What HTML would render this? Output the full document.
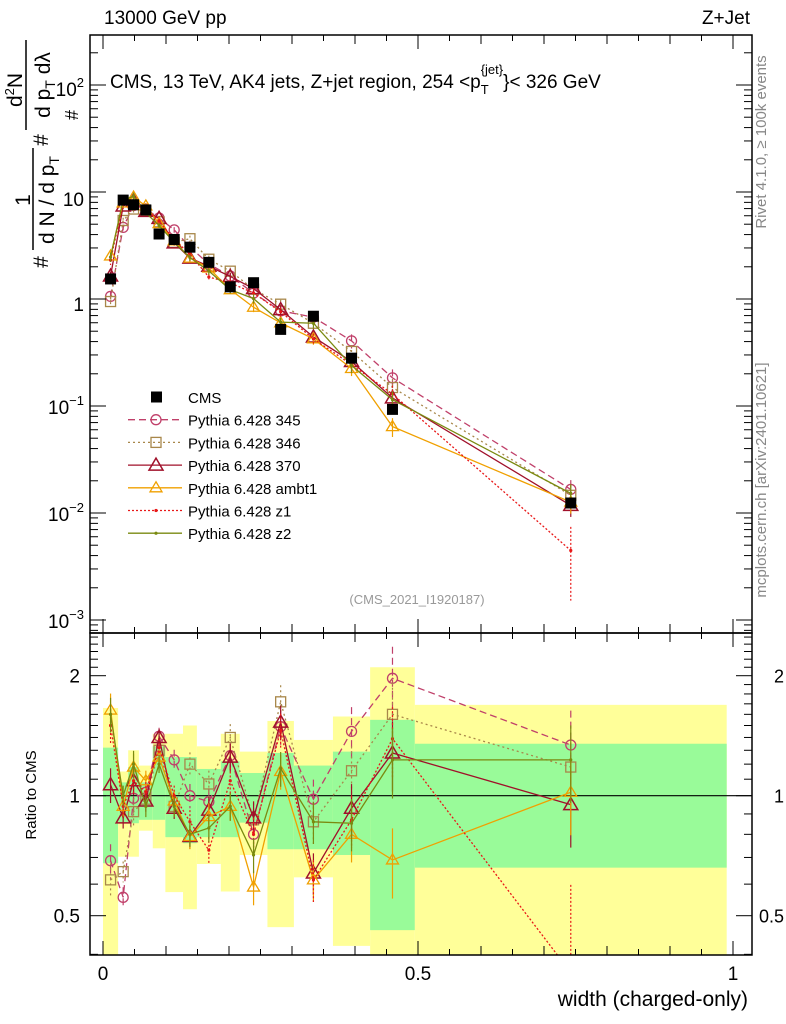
<!DOCTYPE html>
<html><head><meta charset="utf-8"><style>
html,body{margin:0;background:#fff;overflow:hidden;width:786px;height:1024px;}
svg{display:block;font-family:"Liberation Sans",sans-serif;}
</style></head><body>
<svg id="chart" width="786" height="1024" viewBox="0 0 786 1024" xmlns="http://www.w3.org/2000/svg">
<defs>
<clipPath id="cm"><rect x="90" y="35" width="662" height="598"/></clipPath>
<clipPath id="cr"><rect x="90" y="633" width="662" height="322"/></clipPath>
</defs>
<g id="bands" clip-path="url(#cr)"></g>
<line x1="90" y1="795.7" x2="752" y2="795.7" stroke="#000" stroke-width="1.2"/>
<g id="ratio" clip-path="url(#cr)"></g>
<g id="main" clip-path="url(#cm)"></g>
<rect x="90" y="35" width="662" height="598" fill="none" stroke="#000" stroke-width="1.5"/>
<rect x="90" y="633" width="662" height="322" fill="none" stroke="#000" stroke-width="1.5"/>
<g id="ticks" stroke="#000" stroke-width="1"></g>
<g id="labels" font-size="19" fill="#000"></g>
<text x="104" y="24" font-size="19">13000 GeV pp</text>
<text x="750" y="24" font-size="19" text-anchor="end">Z+Jet</text>
<text x="110" y="88" font-size="19">CMS, 13 TeV, AK4 jets, Z+jet region, 254 &lt;p<tspan font-size="13" dy="6">T</tspan><tspan font-size="13" dx="-8" dy="-20">{jet}</tspan><tspan dy="14">}&lt; 326 GeV</tspan></text>
<text x="417" y="604" font-size="13" fill="#999" text-anchor="middle">(CMS_2021_I1920187)</text>
<text transform="translate(766,142) rotate(-90)" font-size="15" fill="#888" text-anchor="middle">Rivet 4.1.0, ≥ 100k events</text>
<text transform="translate(766,480) rotate(-90)" font-size="15" fill="#888" text-anchor="middle">mcplots.cern.ch [arXiv:2401.10621]</text>
<text transform="translate(36,795) rotate(-90)" font-size="15" text-anchor="middle">Ratio to CMS</text>
<text x="748" y="1006" font-size="21" text-anchor="end">width (charged-only)</text>
<g transform="rotate(-90)" font-size="21">
  <text x="-262" y="48" text-anchor="middle">#</text>
  <text x="-200" y="30" text-anchor="middle">1</text>
  <line x1="-250" y1="33" x2="-148" y2="33" stroke="#000" stroke-width="1.5"/>
  <text x="-200" y="54" text-anchor="middle">d N / d p<tspan font-size="14" dy="5">T</tspan></text>
  <text x="-140" y="48" text-anchor="middle">#</text>
  <text x="-90" y="22" text-anchor="middle">d<tspan font-size="13" dy="-8">2</tspan><tspan dy="8">N</tspan></text>
  <text x="-115" y="78" text-anchor="middle" font-size="18">#</text>
  <line x1="-130" y1="26" x2="-40" y2="26" stroke="#000" stroke-width="1.5"/>
  <text x="-85" y="50" text-anchor="middle">d p<tspan font-size="14" dy="5">T</tspan><tspan dy="-5"> dλ</tspan></text>
</g>
<g id="legend" font-size="15"></g>
</svg>
<script>
const edges=[0,0.024,0.04,0.057,0.079,0.099,0.127,0.149,0.187,0.217,0.261,0.303,0.365,0.424,0.495,0.99];
const cmsValues=[1.54,8.4,7.6,6.8,4.05,3.6,3.05,2.2,1.3,1.42,0.52,0.69,0.28,0.093,0.0124];
const yellowLo=[0.38,0.703,0.703,0.817,0.738,0.573,0.519,0.674,0.575,0.71,0.468,0.624,0.42,0.38,0.38];
const yellowHi=[1.66,1.15,1.30,1.19,1.43,1.43,1.50,1.33,1.43,1.29,1.54,1.38,1.58,2.10,1.69];
const greenLo=[0.677,0.853,0.853,0.87,0.87,0.787,0.76,0.787,0.787,0.856,0.734,0.734,0.71,0.46,0.66];
const greenHi=[1.32,1.08,1.18,1.08,1.33,1.25,1.25,1.167,1.22,1.14,1.28,1.19,1.29,1.55,1.35];
const r345=[0.687,0.556,0.985,1.02,1.41,1.23,1.0,0.966,1.26,0.80,1.49,0.98,1.45,1.97,1.34];
const r346=[0.615,0.645,0.912,0.98,1.30,0.94,1.20,1.07,1.40,0.87,1.72,0.86,1.155,1.60,1.18];
const r370=[1.065,0.88,1.09,0.97,1.40,0.93,0.79,0.92,1.25,0.88,1.53,0.64,0.93,1.28,0.95];
const rAmbt1=[1.64,0.94,1.18,1.09,1.25,0.97,0.79,0.886,0.94,0.59,1.15,0.615,0.80,0.69,1.02];
const rZ1=[1.5,0.94,1.09,1.02,1.32,1.0,0.86,0.73,1.09,0.80,1.46,0.615,0.87,1.39,0.36];
const rZ2=[1.60,1.0,1.20,0.94,1.20,0.94,0.80,0.83,0.94,0.71,1.17,0.86,0.853,1.23,1.23];
const relErr=[0.1,0.06,0.08,0.06,0.05,0.06,0.07,0.08,0.08,0.1,0.1,0.12,0.15,0.2,0.22];
const seriesNames=["Pythia 6.428 345","Pythia 6.428 346","Pythia 6.428 370","Pythia 6.428 ambt1","Pythia 6.428 z1","Pythia 6.428 z2"];

const NS="http://www.w3.org/2000/svg";
const xpx=v=>103+630*v;
const ym=v=>299-107*Math.log10(v);
const yr=r=>795.7-120*Math.log2(r);
function mk(parent,tag,attrs){const e=document.createElementNS(NS,tag);for(const k in attrs){if(attrs[k]!=='')e.setAttribute(k,attrs[k]);}parent.appendChild(e);return e;}
const mids=edges.slice(0,-1).map((e,i)=>(e+edges[i+1])/2);

const bands=document.getElementById('bands');
for(let i=0;i<mids.length;i++){
  const x0=xpx(edges[i]),w=xpx(edges[i+1])-x0;
  const a=mk(bands,'rect',{x:x0,y:yr(yellowHi[i]),width:w,height:yr(yellowLo[i])-yr(yellowHi[i]),fill:'#ffff99'});
  
  
  const b=mk(bands,'rect',{x:x0,y:yr(greenHi[i]),width:w,height:yr(greenLo[i])-yr(greenHi[i]),fill:'#99fb99'});
  
  
}

const styles=[
 {r:r345,c:'#c0406a',dash:'7,4',m:'circle'},
 {r:r346,c:'#a8874a',dash:'2,3',m:'square'},
 {r:r370,c:'#a0102a',dash:'',m:'tri'},
 {r:rAmbt1,c:'#f0a000',dash:'',m:'tri2'},
 {r:rZ1,c:'#e81818',dash:'2,2',m:'dot'},
 {r:rZ2,c:'#7a8a10',dash:'',m:'dot'}
];
function marker(g,m,x,y,c){
  let e;
  if(m==='circle')e=mk(g,'circle',{cx:x,cy:y,r:5,fill:'none',stroke:c,'stroke-width':1.3});
  else if(m==='square')e=mk(g,'rect',{x:x-5,y:y-5,width:10,height:10,fill:'none',stroke:c,'stroke-width':1.3});
  else if(m==='tri')e=mk(g,'polygon',{points:`${x},${y-7} ${x-7},${y+5} ${x+7},${y+5}`,fill:'none',stroke:c,'stroke-width':1.5});
  else if(m==='tri2')e=mk(g,'polygon',{points:`${x},${y-6} ${x-6},${y+4} ${x+6},${y+4}`,fill:'none',stroke:c,'stroke-width':1.3});
  else e=mk(g,'circle',{cx:x,cy:y,r:1.6,fill:c});
  
  
}
function drawSeries(g,yf,valf,s,k){
  const pts=mids.map((m,i)=>[xpx(m),yf(valf(i))]);
  const pl=mk(g,'polyline',{points:pts.map(p=>p.join(',')).join(' '),fill:'none',stroke:s.c,'stroke-width':1.3,'stroke-dasharray':s.dash});
  
  
  mids.forEach((m,i)=>{
    const v=valf(i),e=relErr[i]*((k===4&&i===14)?3:1);
    const l=mk(g,'line',{x1:xpx(m),x2:xpx(m),y1:yf(v*(1+e)),y2:yf(v*(1-e)),stroke:s.c,'stroke-width':1.2,'stroke-dasharray':s.dash});
    
    
    marker(g,s.m,xpx(m),yf(v),s.c);
  });
}
const ratio=document.getElementById('ratio'),main=document.getElementById('main');
styles.forEach((s,k)=>{
  drawSeries(ratio,yr,i=>s.r[i],s,k);
  drawSeries(main,ym,i=>cmsValues[i]*s.r[i],s,k);
});
mids.forEach((m,i)=>{
  const q=mk(main,'rect',{x:xpx(m)-5.5,y:ym(cmsValues[i])-5.5,width:11,height:11,fill:'#000'});
  
  
});

const tk=document.getElementById('ticks'),lb=document.getElementById('labels');
function tl(x1,y1,x2,y2){mk(tk,'line',{x1:x1,y1:y1,x2:x2,y2:y2});}
for(let j=0;j<=20;j++){
  const v=j*0.05,x=xpx(v);
  const len=(j%10===0)?14:(j%2===0?9:6);
  tl(x,35,x,35+len);tl(x,633,x,633-len);
  tl(x,633,x,633+len);tl(x,955,x,955-len);
}
for(let d=-4;d<=2;d++){for(let m=1;m<=9;m++){const v=m*Math.pow(10,d),y=ym(v);if(y<35||y>633)continue;const len=m===1?16:8;tl(90,y,90+len,y);tl(752,y,752-len,y);}}
for(let j=4;j<=26;j++){const r=j/10,y=yr(r);if(y<633||y>955)continue;const big=(j===10||j===20||j===5);tl(90,y,90+(big?16:8),y);tl(752,y,752-(big?16:8),y);}
function txt(x,y,s,anchor,fs){const t=mk(lb,'text',{x:x,y:y,'text-anchor':anchor||'end'});if(fs)t.setAttribute('font-size',fs);t.innerHTML=s;return t;}
txt(103,980,'0','middle');txt(418,980,'0.5','middle');txt(733,980,'1','middle');
txt(84,206,'10');txt(84,311,'1');
txt(84,96,'10<tspan font-size="13" dy="-9">2</tspan>');
[-1,-2,-3].forEach(d=>txt(84,ym(Math.pow(10,d))+8,'10<tspan font-size="13" dy="-9">−'+(-d)+'</tspan>'));
[[2,'2'],[1,'1'],[0.5,'0.5']].forEach(p=>{txt(80,yr(p[0])+7,p[1]);txt(784,yr(p[0])+7,p[1],'end',18);});

const lg=document.getElementById('legend');
const ly0=397,dy=22.7;
const cm=mk(lg,'rect',{x:151,y:ly0-5.5,width:11,height:11,fill:'#000'});


const ct=mk(lg,'text',{x:188,y:ly0+6});ct.textContent='CMS';


styles.forEach((s,k)=>{
  const y=ly0+dy*(k+1);
  const l=mk(lg,'line',{x1:128,x2:182,y1:y,y2:y,stroke:s.c,'stroke-width':1.3,'stroke-dasharray':s.dash});
  
  
  marker(lg,s.m,156,y,s.c);
  const t=mk(lg,'text',{x:188,y:y+6});t.textContent=seriesNames[k];
  
  
});
</script>
</body></html>
